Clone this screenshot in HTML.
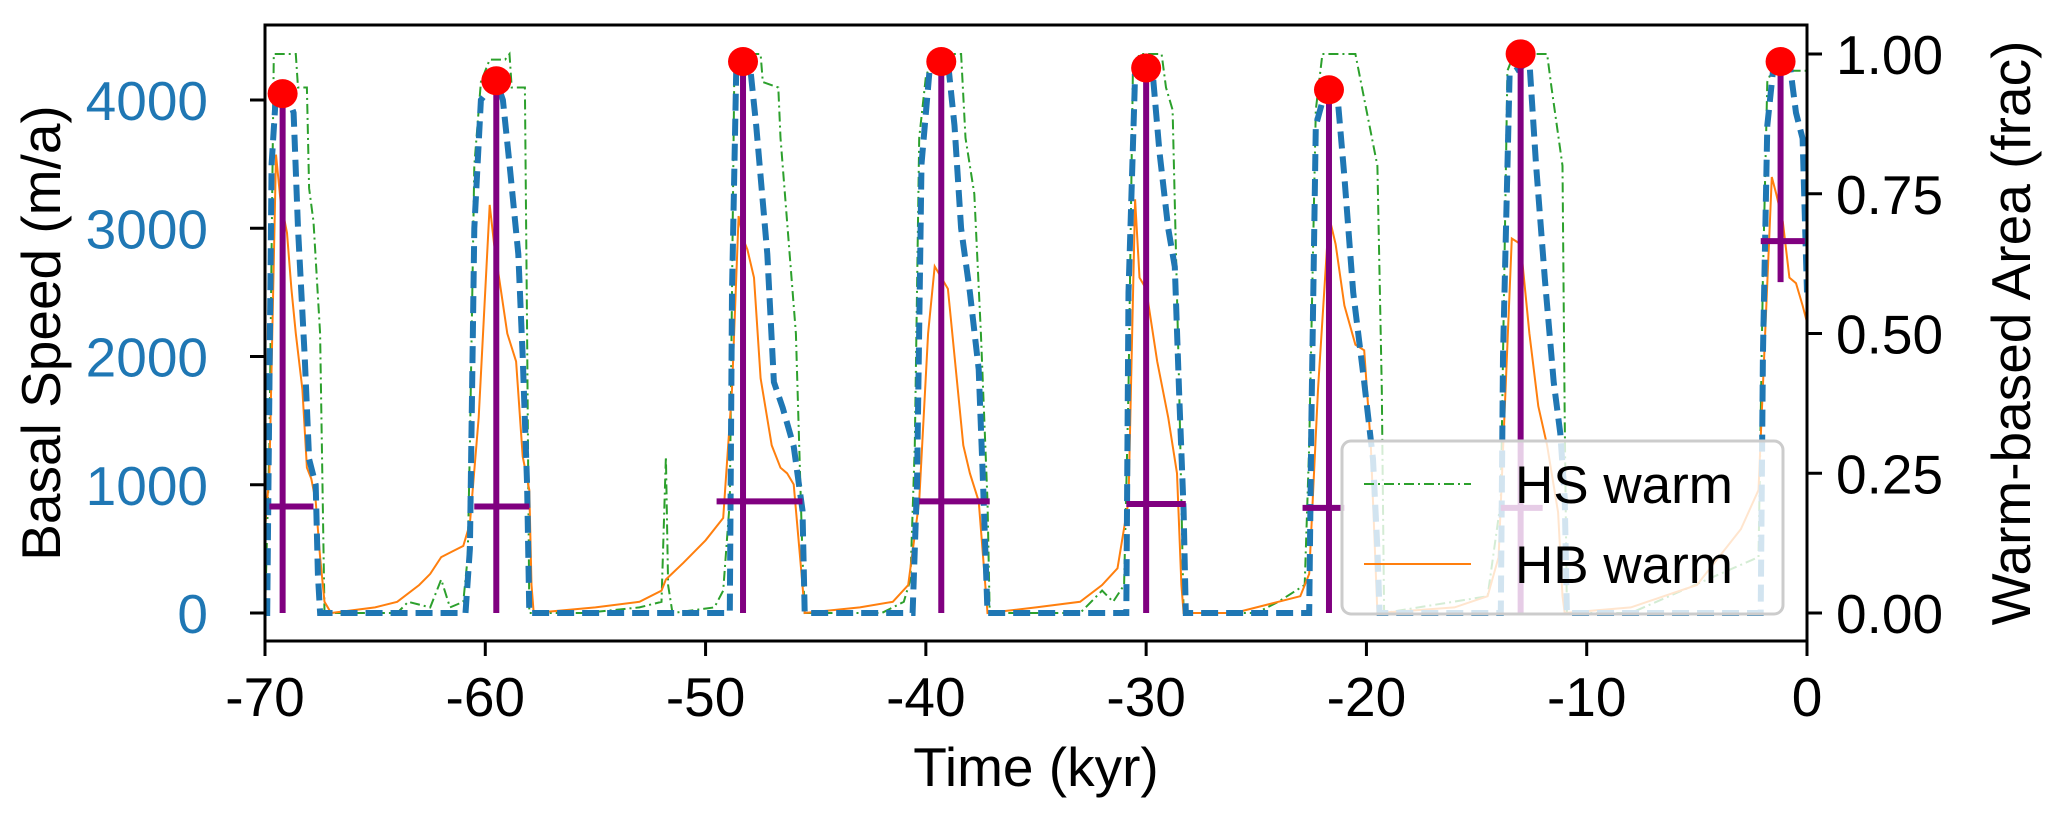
<!DOCTYPE html>
<html><head><meta charset="utf-8">
<style>
html,body{margin:0;padding:0;background:#fff;}
svg{display:block;font-family:"Liberation Sans",Arial,sans-serif;}
</style></head>
<body>
<svg id="chart" width="2054" height="820" viewBox="0 0 2054 820" xmlns="http://www.w3.org/2000/svg">
  <g id="marks"></g>
  <g id="axes"></g>
  <g id="legend">
    <rect x="1342" y="441" width="441" height="173" rx="9" fill="#fff" fill-opacity="0.8" stroke="#cccccc" stroke-width="3"/>
    <line x1="1364" y1="484" x2="1471" y2="484" stroke="#2ca02c" stroke-width="2" stroke-dasharray="10,4,2,4"/>
    <text x="1515" y="503" font-size="53">HS warm</text>
    <line x1="1364" y1="564" x2="1471" y2="564" stroke="#ff7f0e" stroke-width="2"/>
    <text x="1515" y="583" font-size="53">HB warm</text>
  </g>
</svg>
<script>
// ---- data ----
const xTicks = [-70,-60,-50,-40,-30,-20,-10,0];
const yTicksLeft = [0,1000,2000,3000,4000];
const yTicksRight = [0,0.25,0.5,0.75,1.0];
const yTickRightLabels = ["0.00","0.25","0.50","0.75","1.00"];

const speedT = [-70,-69.9,-69.7,-69.5,-69.0,-68.7,-68.5,-68.2,-68.0,-67.7,-67.6,-67.5,
 -60.9,-60.7,-60.5,-60.2,-59.5,-59.2,-58.9,-58.5,-58.3,-58.1,-58.0,
 -48.9,-48.8,-48.6,-48.0,-47.7,-47.2,-46.9,-46.5,-46.0,-45.6,-45.5,
 -40.6,-40.4,-40.2,-39.8,-39.0,-38.7,-38.4,-38.0,-37.6,-37.4,-37.2,
 -30.9,-30.8,-30.5,-29.7,-29.4,-29.0,-28.7,-28.5,-28.3,-28.2,
 -22.6,-22.5,-22.3,-21.9,-21.3,-21.0,-20.6,-20.1,-19.7,-19.5,-19.4,
 -13.9,-13.8,-13.5,-12.6,-12.3,-11.9,-11.5,-11.2,-11.0,-10.9,
 -2.1,-2.0,-1.8,-1.5,-0.8,-0.5,-0.2,0];
const speedV = [0,0,3500,4050,4050,3900,3000,2000,1200,1000,300,0,
 0,500,3000,4000,4150,4000,3500,2800,2000,1000,0,
 0,2500,4300,4300,3800,2800,1800,1600,1300,800,0,
 0,1000,3500,4300,4300,3800,3000,2500,1900,1000,0,
 0,2500,4200,4200,3600,3000,2700,1700,800,0,
 0,1500,3800,4050,4000,3400,2500,1800,1200,500,0,
 0,2000,4200,4300,3500,2600,1800,1400,900,0,
 0,2000,3800,4300,4300,3900,3700,2500];

const hsT = [-70,-69.8,-69.6,-68.6,-68.5,-68.1,-68.0,-67.8,-67.5,-67.3,-64,-63.5,-62.5,-62,-61.6,-61,-60.8,-60.7,-60.5,-60.2,-59.8,-59.1,-58.9,-58.8,-58.2,-58.1,-58.0,
 -55.5,-53,-52,-51.9,-51.8,-51.7,-51.5,-49.6,-49.2,-48.9,-48.7,-48.6,-47.5,-47.4,-46.7,-46.6,-46.3,-45.9,-45.6,-45.5,
 -42,-41,-40.7,-40.5,-40.3,-40.0,-39.6,-38.4,-38.2,-37.8,-37.5,-37.2,-37.1,
 -33,-32,-31.5,-31.0,-30.8,-30.6,-30.3,-29.3,-29.1,-28.8,-28.5,-28.3,
 -25,-24,-22.8,-22.6,-22.3,-22.0,-20.5,-20.3,-19.5,-19.3,-19.2,
 -14.5,-13.9,-13.6,-13.3,-11.8,-11.6,-11.1,-11.0,-10.9,
 -8,-2.2,-2.0,-1.8,-1.6,-0.1,0];
const hsV = [0,0.3,1.0,1.0,0.94,0.94,0.76,0.7,0.5,0,0,0.02,0.01,0.06,0.01,0.02,0.1,0.3,0.8,0.95,0.99,0.99,1.0,0.94,0.94,0.5,0,
 0,0.01,0.02,0.15,0.28,0.05,0,0.01,0.04,0.2,0.95,1.0,1.0,0.95,0.94,0.85,0.7,0.5,0.1,0,
 0,0.02,0.06,0.3,0.85,0.96,1.0,1.0,0.85,0.75,0.5,0.2,0,
 0,0.04,0.02,0.05,0.4,0.97,1.0,1.0,0.94,0.9,0.4,0,
 0,0.02,0.05,0.3,0.9,1.0,1.0,0.96,0.8,0.4,0,
 0.03,0.2,0.97,1.0,1.0,0.94,0.8,0.35,0,
 0,0.1,0.6,0.95,0.97,0.97,0.97];

const hbT = [-70,-69.8,-69.5,-69.3,-69.0,-68.8,-68.6,-68.3,-68.1,-67.9,-67.7,-67.5,-67.3,-67.0,-65,-64,-63,-62.5,-62,-61.5,-61.0,-60.7,-60.3,-59.8,-59.6,-59.3,-59.0,-58.6,-58.3,-58.0,-57.9,-57.8,
 -55,-53,-52,-51.8,-51,-50,-49.2,-48.8,-48.5,-48.3,-48.1,-47.8,-47.5,-47.0,-46.6,-46.3,-46.0,-45.6,-45.5,
 -43,-41.5,-40.8,-40.3,-39.9,-39.6,-39.3,-39.0,-38.6,-38.3,-38.0,-37.6,-37.3,-37.2,
 -35,-33,-32,-31.3,-30.8,-30.5,-30.3,-30.0,-29.5,-29.0,-28.6,-28.4,-28.3,
 -26,-24,-23,-22.6,-22.2,-21.7,-21.4,-21.0,-20.5,-20.1,-19.8,-19.6,-19.5,
 -16,-14.5,-14.0,-13.4,-13.0,-12.6,-12.2,-11.8,-11.3,-11.1,-11.0,
 -8,-5,-3,-2.2,-1.6,-1.4,-1.1,-0.8,-0.5,-0.2,0];
const hbV = [0.15,0.25,0.82,0.74,0.68,0.58,0.5,0.4,0.26,0.24,0.2,0.1,0.02,0,0.01,0.02,0.05,0.07,0.1,0.11,0.12,0.16,0.35,0.73,0.66,0.58,0.5,0.45,0.28,0.22,0.05,0,
 0.01,0.02,0.04,0.06,0.09,0.13,0.17,0.4,0.71,0.67,0.65,0.6,0.42,0.3,0.26,0.25,0.23,0.05,0,
 0.01,0.02,0.05,0.2,0.5,0.62,0.6,0.58,0.42,0.3,0.25,0.2,0.05,0,
 0.01,0.02,0.05,0.08,0.2,0.74,0.6,0.58,0.45,0.35,0.25,0.05,0,
 0,0.02,0.03,0.07,0.4,0.71,0.66,0.55,0.48,0.47,0.3,0.1,0,
 0.01,0.03,0.1,0.67,0.66,0.5,0.37,0.3,0.18,0.03,0,
 0.01,0.05,0.15,0.22,0.78,0.75,0.7,0.6,0.59,0.55,0.52];

const peakT = [-69.2,-59.5,-48.3,-39.3,-30.0,-21.7,-13.0,-1.2];
const peakV = [4050,4150,4300,4300,4250,4080,4360,4300];
const stemBase = [0,0,0,0,0,0,0,2580];
const barV = [830,830,870,870,850,820,820,2900];
const barStart = [-69.8,-60.5,-49.5,-40.3,-30.9,-22.9,-13.9,-2.1];
const barEnd = [-67.8,-58.0,-45.6,-37.1,-28.2,-21.0,-12.0,-0.1];

// ---- axes ----
const L=265,R=1807,T=25,B=641;
const x = t => L + (t+70)/70*(R-L);
const yL = v => 613 - v*0.12825;
const yR = f => 613 - f*559;
const NS="http://www.w3.org/2000/svg";
const marks=document.getElementById('marks'), axes=document.getElementById('axes');
function mk(tag,attrs,parent){const e=document.createElementNS(NS,tag);for(const k in attrs)e.setAttribute(k,attrs[k]);parent.appendChild(e);return e;}

const clip=mk('clipPath',{id:'clp'},marks);
mk('rect',{x:L,y:T,width:R-L,height:B-T},clip);
const g=mk('g',{'clip-path':'url(#clp)'},marks);

function pathOf(ts,vs,yf){return ts.map((t,i)=>(i?'L':'M')+x(t).toFixed(1)+','+yf(vs[i]).toFixed(1)).join('');}

let p=mk('path',{d:pathOf(hsT,hsV,yR),fill:'none',stroke:'#2ca02c','stroke-width':2,'stroke-dasharray':'10,4,2,4'},g);


p=mk('path',{d:pathOf(hbT,hbV,yR),fill:'none',stroke:'#ff7f0e','stroke-width':2},g);


p=mk('path',{d:pathOf(speedT,speedV,yL),fill:'none',stroke:'#1f77b4','stroke-width':6,'stroke-dasharray':'17,8'},g);



peakT.forEach((t,i)=>{
  let s=mk('line',{x1:x(t),x2:x(t),y1:yL(stemBase[i]),y2:yL(peakV[i]),stroke:'#800080','stroke-width':6},g);
  
  
  let b=mk('line',{x1:x(barStart[i]),x2:x(barEnd[i]),y1:yL(barV[i]),y2:yL(barV[i]),stroke:'#800080','stroke-width':6},g);
  
  
});
peakT.forEach((t,i)=>{
  let c=mk('ellipse',{cx:x(t),cy:yL(peakV[i]),rx:15,ry:14.5,fill:'#ff0000'},marks);
  
  
});

let fr=mk('rect',{x:L,y:T,width:R-L,height:B-T,fill:'none',stroke:'#000','stroke-width':3},axes);



xTicks.forEach(t=>{
  let l=mk('line',{x1:x(t),x2:x(t),y1:B,y2:B+15,stroke:'#000','stroke-width':3},axes);
  
  
  let tx=mk('text',{x:x(t),y:716,'font-size':55,'text-anchor':'middle',fill:'#000'},axes);
  tx.textContent=String(t);
  
  
});
yTicksLeft.forEach(v=>{
  let l=mk('line',{x1:L-15,x2:L,y1:yL(v),y2:yL(v),stroke:'#000','stroke-width':3},axes);
  
  
  let tx=mk('text',{x:208,y:yL(v)+20,'font-size':55,'text-anchor':'end',fill:'#1f77b4'},axes);
  tx.textContent=String(v);
  
  
});
yTicksRight.forEach((f,i)=>{
  let l=mk('line',{x1:R,x2:R+15,y1:yR(f),y2:yR(f),stroke:'#000','stroke-width':3},axes);
  
  
  let tx=mk('text',{x:1836,y:yR(f)+20,'font-size':55,fill:'#000'},axes);
  tx.textContent=yTickRightLabels[i];
  
  
});
let xt=mk('text',{x:(L+R)/2,y:786,'font-size':55,'text-anchor':'middle'},axes);
xt.textContent='Time (kyr)';


let ylt=mk('text',{x:0,y:0,'font-size':55,'text-anchor':'middle',transform:'translate(60,333) rotate(-90)'},axes);
ylt.textContent='Basal Speed (m/a)';


let yrt=mk('text',{x:0,y:0,'font-size':55,'text-anchor':'middle',transform:'translate(2030,333) rotate(-90)'},axes);
yrt.textContent='Warm-based Area (frac)';


</script>
</body></html>
